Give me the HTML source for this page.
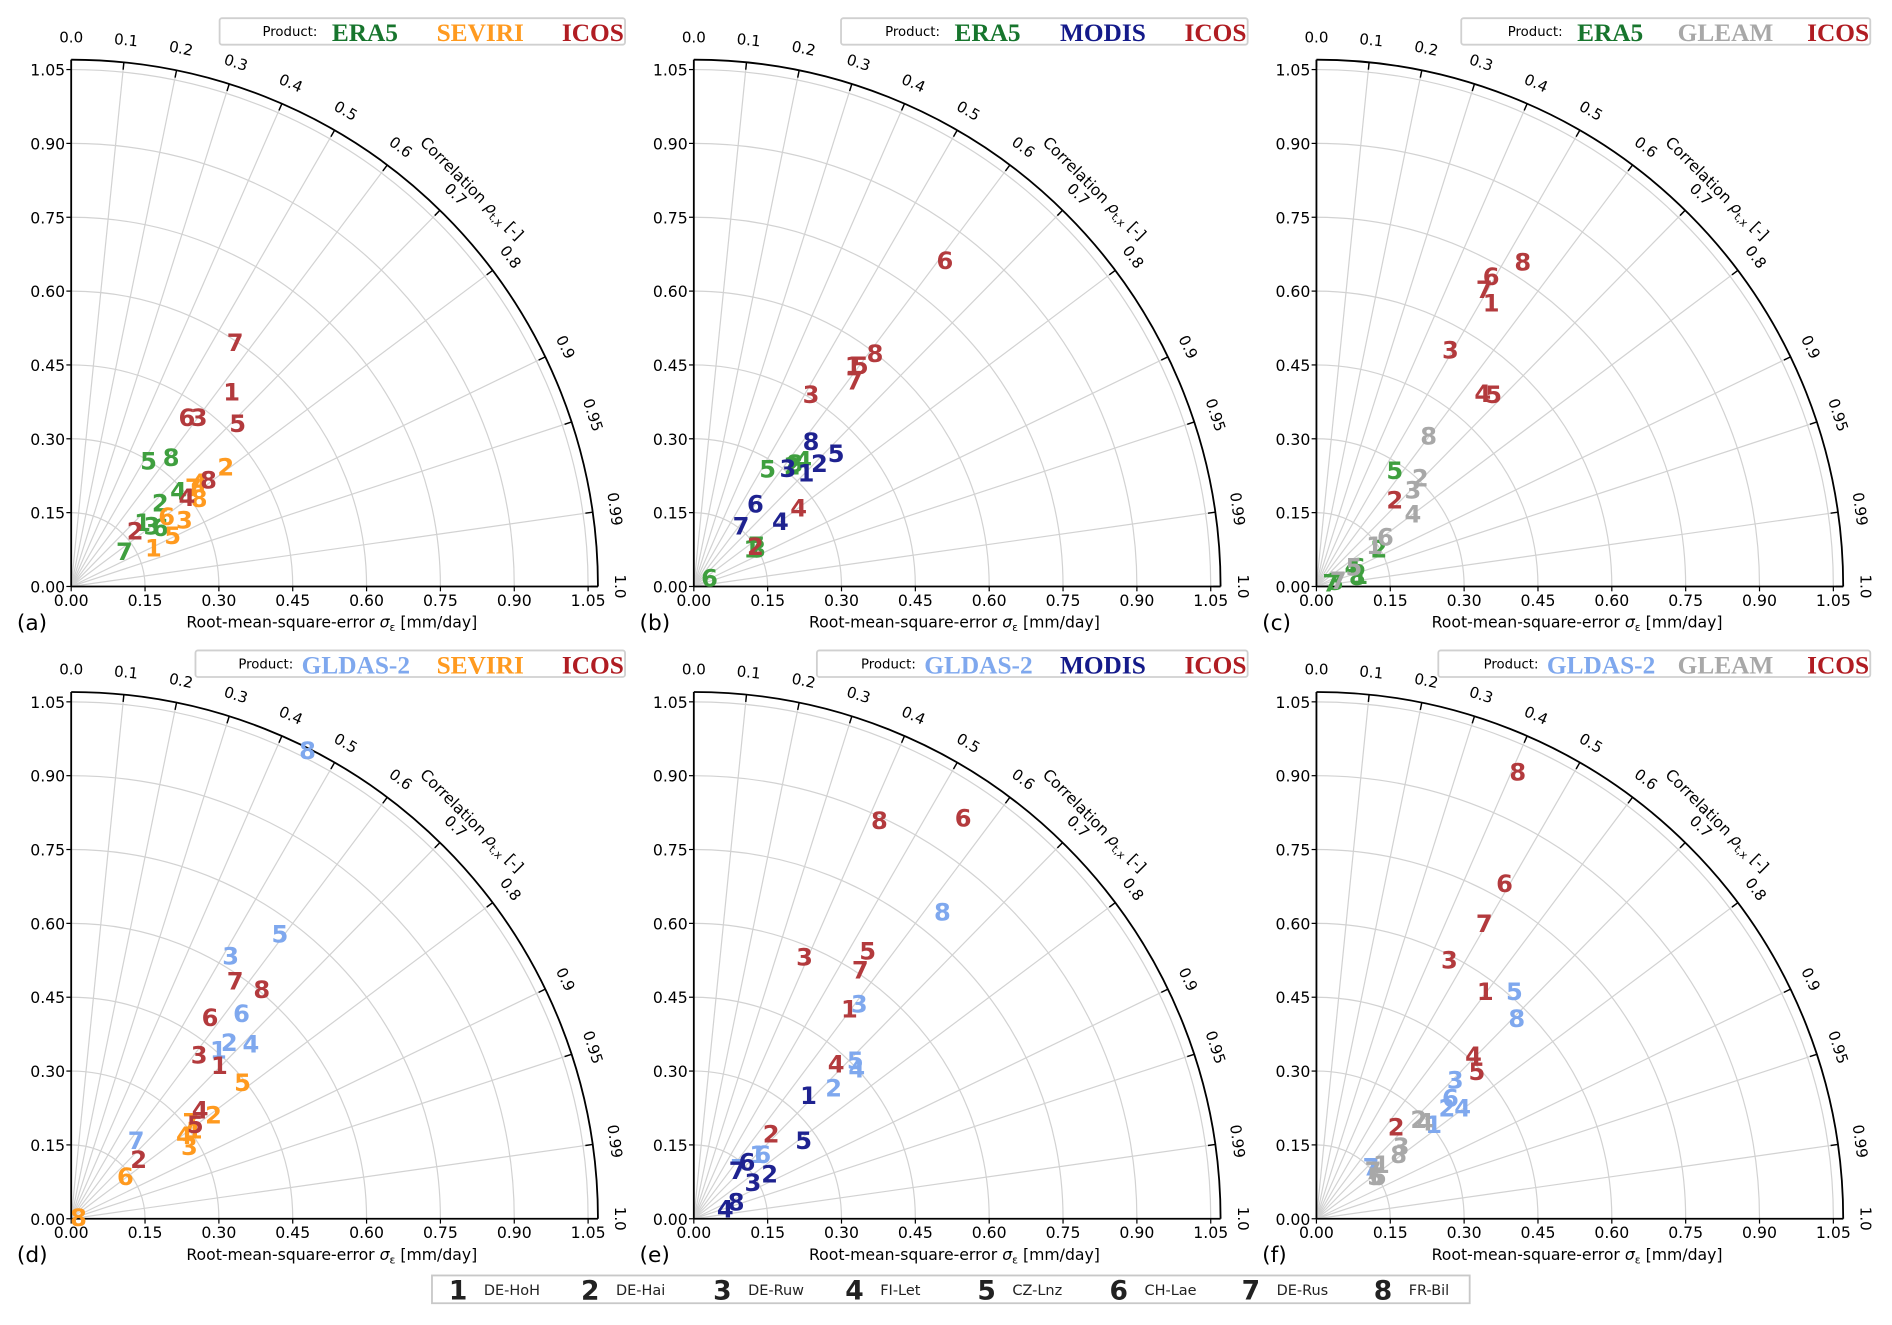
<!DOCTYPE html>
<html><head><meta charset="utf-8"><style>
html,body{margin:0;padding:0;background:#fff;}
svg{display:block;font-family:"DejaVu Sans","Liberation Sans",sans-serif;}
</style></head><body>
<svg id="fig" width="1892" height="1325" viewBox="0 0 1568 1098" xmlns="http://www.w3.org/2000/svg"></svg>
<script>
// ---- data (x = RMSE-axis value, y = vertical-axis value) ----
const siteIds = ["1","2","3","4","5","6","7","8"];
const siteNames = ["DE-HoH","DE-Hai","DE-Ruw","FI-Let","CZ-Lnz","CH-Lae","DE-Rus","FR-Bil"];
const radialTicks = [0,0.15,0.30,0.45,0.60,0.75,0.90,1.05];
const corrTicks = [0.0,0.1,0.2,0.3,0.4,0.5,0.6,0.7,0.8,0.9,0.95,0.99,1.0];

// panel a
const aEraX=[0.145,0.181,0.164,0.218,0.157,0.181,0.108,0.203];
const aEraY=[0.130,0.169,0.123,0.194,0.255,0.120,0.071,0.262];
const aSevX=[0.167,0.314,0.230,0.260,0.206,0.194,0.248,0.260];
const aSevY=[0.078,0.243,0.135,0.211,0.103,0.142,0.201,0.179];
const aIcoX=[0.326,0.130,0.260,0.235,0.338,0.235,0.333,0.279];
const aIcoY=[0.395,0.113,0.343,0.181,0.331,0.343,0.495,0.216];
// panel b
const bEraX=[0.118,0.200,0.130,0.223,0.150,0.032,0.127,0.205];
const bEraY=[0.076,0.245,0.076,0.257,0.238,0.017,0.083,0.250];
const bModX=[0.228,0.255,0.191,0.176,0.289,0.125,0.096,0.238];
const bModY=[0.230,0.250,0.240,0.132,0.270,0.167,0.123,0.294];
const bIcoX=[0.324,0.125,0.238,0.213,0.338,0.510,0.326,0.368];
const bIcoY=[0.449,0.081,0.390,0.159,0.449,0.662,0.417,0.473];
// panel c
const cEraX=[0.088,0.127,0.039,0.074,0.159,0.083,0.029,0.083];
const cEraY=[0.022,0.076,0.010,0.039,0.235,0.039,0.007,0.020];
const cGleX=[0.118,0.211,0.196,0.196,0.076,0.140,0.044,0.228];
const cGleY=[0.083,0.220,0.196,0.147,0.039,0.100,0.012,0.306];
const cIcoX=[0.355,0.159,0.272,0.338,0.360,0.355,0.341,0.419];
const cIcoY=[0.576,0.176,0.480,0.392,0.390,0.630,0.603,0.659];
// panel d
const dGldX=[0.299,0.321,0.324,0.365,0.424,0.346,0.132,0.480];
const dGldY=[0.343,0.358,0.534,0.355,0.578,0.417,0.159,0.951];
const dSevX=[0.250,0.289,0.240,0.230,0.348,0.110,0.243,0.015];
const dSevY=[0.180,0.211,0.147,0.169,0.277,0.086,0.196,0.002];
const dIcoX=[0.301,0.137,0.260,0.262,0.252,0.282,0.333,0.387];
const dIcoY=[0.311,0.120,0.333,0.221,0.191,0.409,0.483,0.466];
// panel e
const eGldX=[0.130,0.284,0.336,0.331,0.328,0.140,0.091,0.505];
const eGldY=[0.130,0.265,0.436,0.304,0.321,0.130,0.103,0.623];
const eModX=[0.233,0.154,0.120,0.064,0.223,0.108,0.088,0.086];
const eModY=[0.250,0.091,0.074,0.020,0.159,0.115,0.098,0.034];
const eIcoX=[0.316,0.157,0.225,0.289,0.353,0.547,0.338,0.377];
const eIcoY=[0.426,0.172,0.532,0.314,0.544,0.814,0.505,0.809];
// panel f
const fGldX=[0.238,0.265,0.282,0.297,0.402,0.272,0.111,0.407];
const fGldY=[0.191,0.225,0.282,0.225,0.461,0.245,0.105,0.407];
const fGleX=[0.132,0.208,0.172,0.221,0.120,0.125,0.115,0.167];
const fGleY=[0.110,0.201,0.147,0.196,0.086,0.086,0.098,0.130];
const fIcoX=[0.343,0.162,0.270,0.319,0.326,0.382,0.341,0.409];
const fIcoY=[0.461,0.186,0.525,0.331,0.299,0.681,0.600,0.907];

const COL={ERA5:["#3f9f3f","#17752d"],SEVIRI:["#ff9a1f","#ff9a1f"],ICOS:["#b33a3d","#b01c22"],MODIS:["#1e2290","#141a8a"],GLEAM:["#a8a8a8","#a8a8a8"],"GLDAS-2":["#7fa8ee","#7fa8ee"]};

const panels=[
 {id:"a",ox:59,oy:486,lx:182,lw:336,ly:15,series:[["ERA5",aEraX,aEraY],["SEVIRI",aSevX,aSevY],["ICOS",aIcoX,aIcoY]]},
 {id:"b",ox:575,oy:486,lx:697,lw:337,ly:15,series:[["ERA5",bEraX,bEraY],["MODIS",bModX,bModY],["ICOS",bIcoX,bIcoY]]},
 {id:"c",ox:1091,oy:486,lx:1211,lw:339,ly:15,series:[["ERA5",cEraX,cEraY],["GLEAM",cGleX,cGleY],["ICOS",cIcoX,cIcoY]]},
 {id:"d",ox:59,oy:1010,lx:162,lw:356,ly:539,series:[["GLDAS-2",dGldX,dGldY],["SEVIRI",dSevX,dSevY],["ICOS",dIcoX,dIcoY]]},
 {id:"e",ox:575,oy:1010,lx:677,lw:357,ly:539,series:[["GLDAS-2",eGldX,eGldY],["MODIS",eModX,eModY],["ICOS",eIcoX,eIcoY]]},
 {id:"f",ox:1091,oy:1010,lx:1192,lw:358,ly:539,series:[["GLDAS-2",fGldX,fGldY],["GLEAM",fGleX,fGleY],["ICOS",fIcoX,fIcoY]]}
];
const S=408, RMAX=1.07;
const NS="http://www.w3.org/2000/svg";
const svg=document.getElementById('fig');
function mk(tag,attrs,parent,text){const e=document.createElementNS(NS,tag);for(const k in attrs)e.setAttribute(k,attrs[k]);if(text!==undefined)e.textContent=text;(parent||svg).appendChild(e);return e;}

panels.forEach(p=>{
  const g=mk('g',{});
  
  
  const X=v=>p.ox+v*S, Y=v=>p.oy-v*S;
  radialTicks.slice(1).forEach(r=>{
    const a=mk('path',{d:`M${X(r)},${p.oy} A${r*S},${r*S} 0 0 0 ${p.ox},${Y(r)}`,fill:'none',stroke:'#d2d2d2','stroke-width':1},g);
    
    
  });
  corrTicks.forEach(c=>{
    const t=Math.acos(c);
    if(c>0&&c<1){
      const l=mk('line',{x1:p.ox,y1:p.oy,x2:p.ox+RMAX*S*Math.cos(t),y2:p.oy-RMAX*S*Math.sin(t),stroke:'#d2d2d2','stroke-width':1},g);
      
      
    }
    const x1=p.ox+RMAX*S*Math.cos(t),y1=p.oy-RMAX*S*Math.sin(t);
    const x2=p.ox+(RMAX-0.015)*S*Math.cos(t),y2=p.oy-(RMAX-0.015)*S*Math.sin(t);
    mk('line',{x1,y1,x2,y2,stroke:'#000','stroke-width':1.2},g);
    const lr=(RMAX+0.035)*S, lx=p.ox+lr*Math.cos(t), ly=p.oy-lr*Math.sin(t);
    const rot=90-t*180/Math.PI;
    const lab=(c===0?"0.0":(c===1?"1.0":String(c)));
    const tl=mk('text',{x:lx,y:ly,'font-size':12.5,'text-anchor':'middle',transform:`rotate(${rot} ${lx} ${ly})`},g,lab);
    
    
  });
  mk('path',{d:`M${X(RMAX)},${p.oy} A${RMAX*S},${RMAX*S} 0 0 0 ${p.ox},${Y(RMAX)}`,fill:'none',stroke:'#000','stroke-width':1.5},g);
  mk('line',{x1:p.ox,y1:p.oy,x2:X(RMAX),y2:p.oy,stroke:'#000','stroke-width':1.5},g);
  mk('line',{x1:p.ox,y1:p.oy,x2:p.ox,y2:Y(RMAX),stroke:'#000','stroke-width':1.5},g);
  radialTicks.forEach(r=>{
    mk('line',{x1:X(r),y1:p.oy,x2:X(r),y2:p.oy+4,stroke:'#000'},g);
    mk('line',{x1:p.ox,y1:Y(r),x2:p.ox-4,y2:Y(r),stroke:'#000'},g);
    const xt=mk('text',{x:X(r),y:p.oy+16,'font-size':13,'text-anchor':'middle'},g,r.toFixed(2));
    
    
    const yt=mk('text',{x:p.ox-5,y:Y(r)+5,'font-size':13,'text-anchor':'end'},g,r.toFixed(2));
    
    
  });
  const xt=mk('text',{x:p.ox+216,y:p.oy+34,'font-size':13,'text-anchor':'middle'},g);
  
  
  xt.innerHTML='Root-mean-square-error <tspan font-style="italic">σ</tspan><tspan font-size="9" dy="3">ε</tspan><tspan dy="-3"> [mm/day]</tspan>';
  const cx=p.ox+0.806*S, cy=p.oy-0.801*S;
  const ct=mk('text',{x:cx,y:cy,'font-size':13,'text-anchor':'middle',transform:`rotate(45 ${cx} ${cy})`},g);
  
  
  ct.innerHTML='Correlation <tspan font-style="italic">ρ</tspan><tspan font-size="9" dy="3">t,x</tspan><tspan dy="-3"> [-]</tspan>';
  const pl=mk('text',{x:p.ox-45,y:p.oy+36,'font-size':18},g,'('+p.id+')');
  
  
  // legend
  const lg=mk('g',{},g);
  
  
  const R=p.lx+p.lw;
  mk('rect',{x:p.lx,y:p.ly,width:p.lw,height:22,fill:'#fff',stroke:'#d0d0d0','stroke-width':1.5,rx:2},lg);
  const gl=p.series[0][0]==="GLDAS-2";
  mk('text',{x:R-(gl?275:255),y:p.ly+15,'font-size':11,'text-anchor':'end'},lg,'Product:');
  const xs=[R-(gl?268:243),R-120,R-1];
  const anc=['start','middle','end'];
  p.series.forEach((s,i)=>{
    const t=mk('text',{x:xs[i],y:p.ly+19,'font-size':21,'font-weight':'bold','font-family':'"Liberation Serif",serif',fill:COL[s[0]][1],'text-anchor':anc[i]},lg,s[0]);
    
    
  });
  p.series.forEach(s=>{
    const sg=mk('g',{},g);
    
    
    s[1].forEach((v,i)=>{
      const t=mk('text',{x:X(v),y:Y(s[2][i])+7,'font-size':20,'font-weight':'bold','text-anchor':'middle',fill:COL[s[0]][0]},sg,siteIds[i]);
      
      
    });
  });
});
const sl=mk('g',{});


mk('rect',{x:358,y:1057,width:860,height:23,fill:'#fff',stroke:'#c8c8c8','stroke-width':1.5},sl);
siteIds.forEach((id,i)=>{
  const x0=372+i*109.5;
  const n=mk('text',{x:x0,y:1077,'font-size':22,'font-weight':'bold','fill':'#222'},sl,id);
  
  
  const s=mk('text',{x:x0+29,y:1073,'font-size':12,'fill':'#222'},sl,siteNames[i]);
  
  
});
</script>
</body></html>
